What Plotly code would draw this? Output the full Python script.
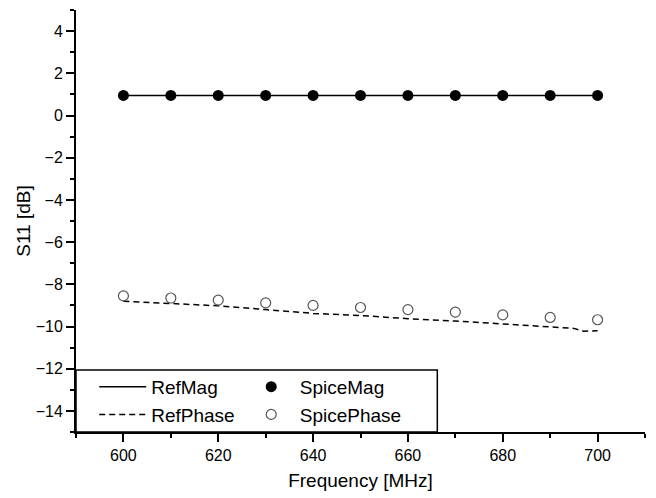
import plotly.graph_objects as go

# ---- data ----
freq_spice = [600, 610, 620, 630, 640, 650, 660, 670, 680, 690, 700]
spice_mag = [0.95, 0.95, 0.95, 0.95, 0.95, 0.95, 0.95, 0.95, 0.95, 0.95, 0.95]
spice_phase = [-8.55, -8.65, -8.75, -8.88, -9.0, -9.1, -9.2, -9.32, -9.45, -9.57, -9.68]

freq_ref = [600, 610, 620, 630, 640, 650, 660, 670, 680, 690, 695, 697, 700]
ref_mag = [0.95] * len(freq_ref)
ref_phase = [-8.80, -8.90, -9.02, -9.20, -9.38, -9.48, -9.63, -9.74, -9.88, -10.03, -10.09, -10.22, -10.20]

x_ticks = [600, 620, 640, 660, 680, 700]
y_ticks = [-14, -12, -10, -8, -6, -4, -2, 0, 2, 4]

FONT = "Arial, Liberation Sans, sans-serif"

fig = go.Figure()
fig.add_trace(go.Scatter(x=freq_ref, y=ref_mag, mode="lines", name="RefMag",
                         line=dict(color="black", width=1.6), legend="legend"))
fig.add_trace(go.Scatter(x=freq_ref, y=ref_phase, mode="lines", name="RefPhase",
                         line=dict(color="black", width=1.5, dash="6px,4px"), legend="legend"))
fig.add_trace(go.Scatter(x=freq_spice, y=spice_mag, mode="markers", name="SpiceMag",
                         marker=dict(symbol="circle", size=11, color="black"), legend="legend2"))
fig.add_trace(go.Scatter(x=freq_spice, y=spice_phase, mode="markers", name="SpicePhase",
                         marker=dict(symbol="circle-open", size=10, color="#555555",
                                     line=dict(width=1.2)), legend="legend2"))

axis_common = dict(showline=True, linewidth=2, linecolor="black", showgrid=False,
                   zeroline=False, ticks="outside", ticklen=8, tickwidth=1.5,
                   tickcolor="black", mirror=False, automargin=False,
                   tickfont=dict(family=FONT, size=16, color="black"))

fig.update_xaxes(range=[590, 710], tickvals=x_ticks,
                 minor=dict(dtick=10, tick0=590, ticks="outside", ticklen=4, tickwidth=1.5, tickcolor="black"),
                 title=dict(text="Frequency [MHz]", font=dict(family=FONT, size=19, color="black"), standoff=10),
                 **axis_common)
fig.update_yaxes(range=[-15, 5], tickvals=y_ticks,
                 minor=dict(dtick=1, tick0=-15, ticks="outside", ticklen=4, tickwidth=1.5, tickcolor="black"),
                 title=dict(text="S11 [dB]", font=dict(family=FONT, size=19, color="black"), standoff=0),
                 **axis_common)

legend_font = dict(family=FONT, size=19, color="black")
fig.update_layout(
    width=656, height=498,
    margin=dict(l=76, r=11, t=10, b=66),
    plot_bgcolor="white", paper_bgcolor="white",
    showlegend=True,
    legend=dict(x=0.032, y=0.152, xanchor="left", yanchor="top", font=legend_font,
                bgcolor="rgba(0,0,0,0)", borderwidth=0, tracegroupgap=0, itemwidth=47),
    legend2=dict(x=0.293, y=0.152, xanchor="left", yanchor="top", font=legend_font,
                 bgcolor="rgba(0,0,0,0)", borderwidth=0, tracegroupgap=0, itemwidth=47),
    shapes=[dict(type="rect", xref="paper", yref="paper", x0=0, x1=0.635, y0=0, y1=0.147,
                 line=dict(color="black", width=1.5), fillcolor="rgba(0,0,0,0)", layer="above")],
)

fig.write_html("out.html", config={"displayModeBar": False},
               post_script="document.body.style.margin='0';")
